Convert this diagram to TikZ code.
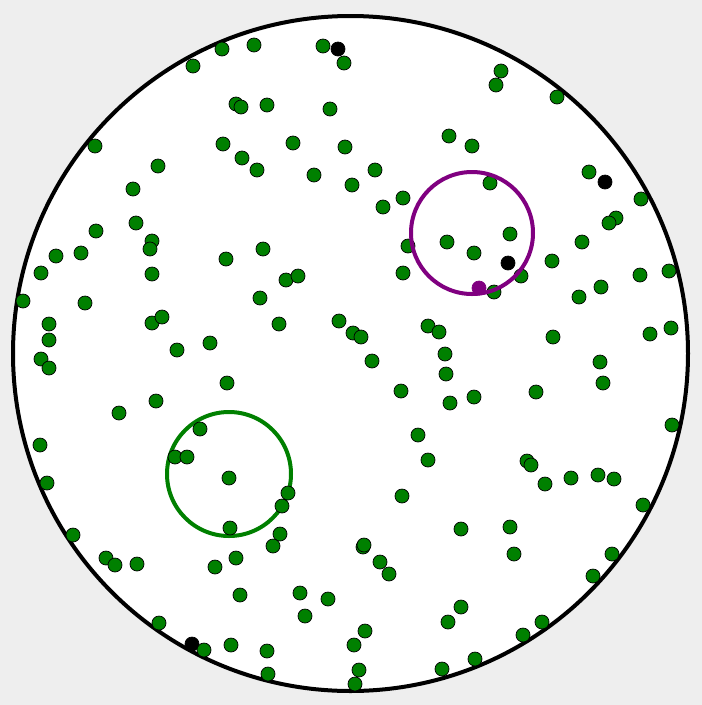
\documentclass[tikz,border=0pt]{standalone}
\usepackage{tikz}
\definecolor{bggray}{RGB}{238,238,238}
\definecolor{dotgreen}{RGB}{0,128,0}
\definecolor{dotpurple}{RGB}{128,0,128}
\tikzset{
  gdot/.style={fill=dotgreen,draw=black,line width=0.7pt},
  bdot/.style={fill=black,draw=black,line width=0.7pt},
  pdot/.style={fill=dotpurple,draw=dotpurple,line width=0.7pt},
  ring/.style={line width=4pt}
}

\begin{document}
\begin{tikzpicture}[x=1pt,y=-1pt]
  % background and disc
  \fill[bggray] (0,0) rectangle (702,705);
  \useasboundingbox (0,0) rectangle (702,705);
  \draw[fill=white,line width=4pt] (350.5,353.5) circle[radius=337.5];
  % green search circle
  \draw[ring,dotgreen] (229,474) circle[radius=62];
  % green points
  \foreach \px/\py in {222/49,254/45,193/66,323/46,344/63,236/104,241/107,267/105,
      330/109,95/146,223/144,293/143,345/147,158/166,242/158,257/170,314/175,
      352/185,133/189,136/223,96/231,152/241,150/249,56/256,81/253,263/249,
      226/259,41/273,152/274,286/280,298/276,23/301,85/303,260/298,49/324,
      49/340,152/323,162/317,279/324,339/321,353/333,361/337,210/343,177/350,
      41/359,49/368,
      501/71,496/85,557/97,449/136,472/146,375/170,589/172,490/183,403/198,
      383/207,641/199,616/218,609/223,510/234,408/246,447/242,474/253,582/242,
      552/261,403/273,521/276,494/292,640/275,669/271,601/287,579/297,428/326,
      439/332,553/337,650/334,671/328,445/354,
      227/383,156/401,119/413,200/429,40/445,175/457,187/457,229/478,47/483,
      288/493,282/506,230/528,280/534,273/546,73/535,106/558,115/565,137/564,
      236/558,215/567,240/595,300/593,328/599,305/616,159/623,231/645,
      267/651,268/674,354/645,355/684,
      372/361,446/374,600/362,603/383,401/391,450/403,474/397,536/392,672/425,
      418/435,428/460,527/461,531/465,571/478,598/475,614/479,545/484,402/496,
      643/505,461/529,510/527,363/547,364/545,380/562,389/574,514/554,612/554,
      593/576,461/607,448/622,365/631,542/622,523/635,359/670,442/669,475/659}
    \draw[gdot] (\px,\py) circle[radius=7];
  % black points
  \foreach \px/\py in {338/49,605/182,508/263,192/644}
    \draw[bdot] (\px,\py) circle[radius=7];
  \draw[gdot] (204,650) circle[radius=7];
  % purple search circle and its point
  \draw[ring,dotpurple] (472,233) circle[radius=61];
  \draw[pdot] (479,288) circle[radius=7];
\end{tikzpicture}
\end{document}
